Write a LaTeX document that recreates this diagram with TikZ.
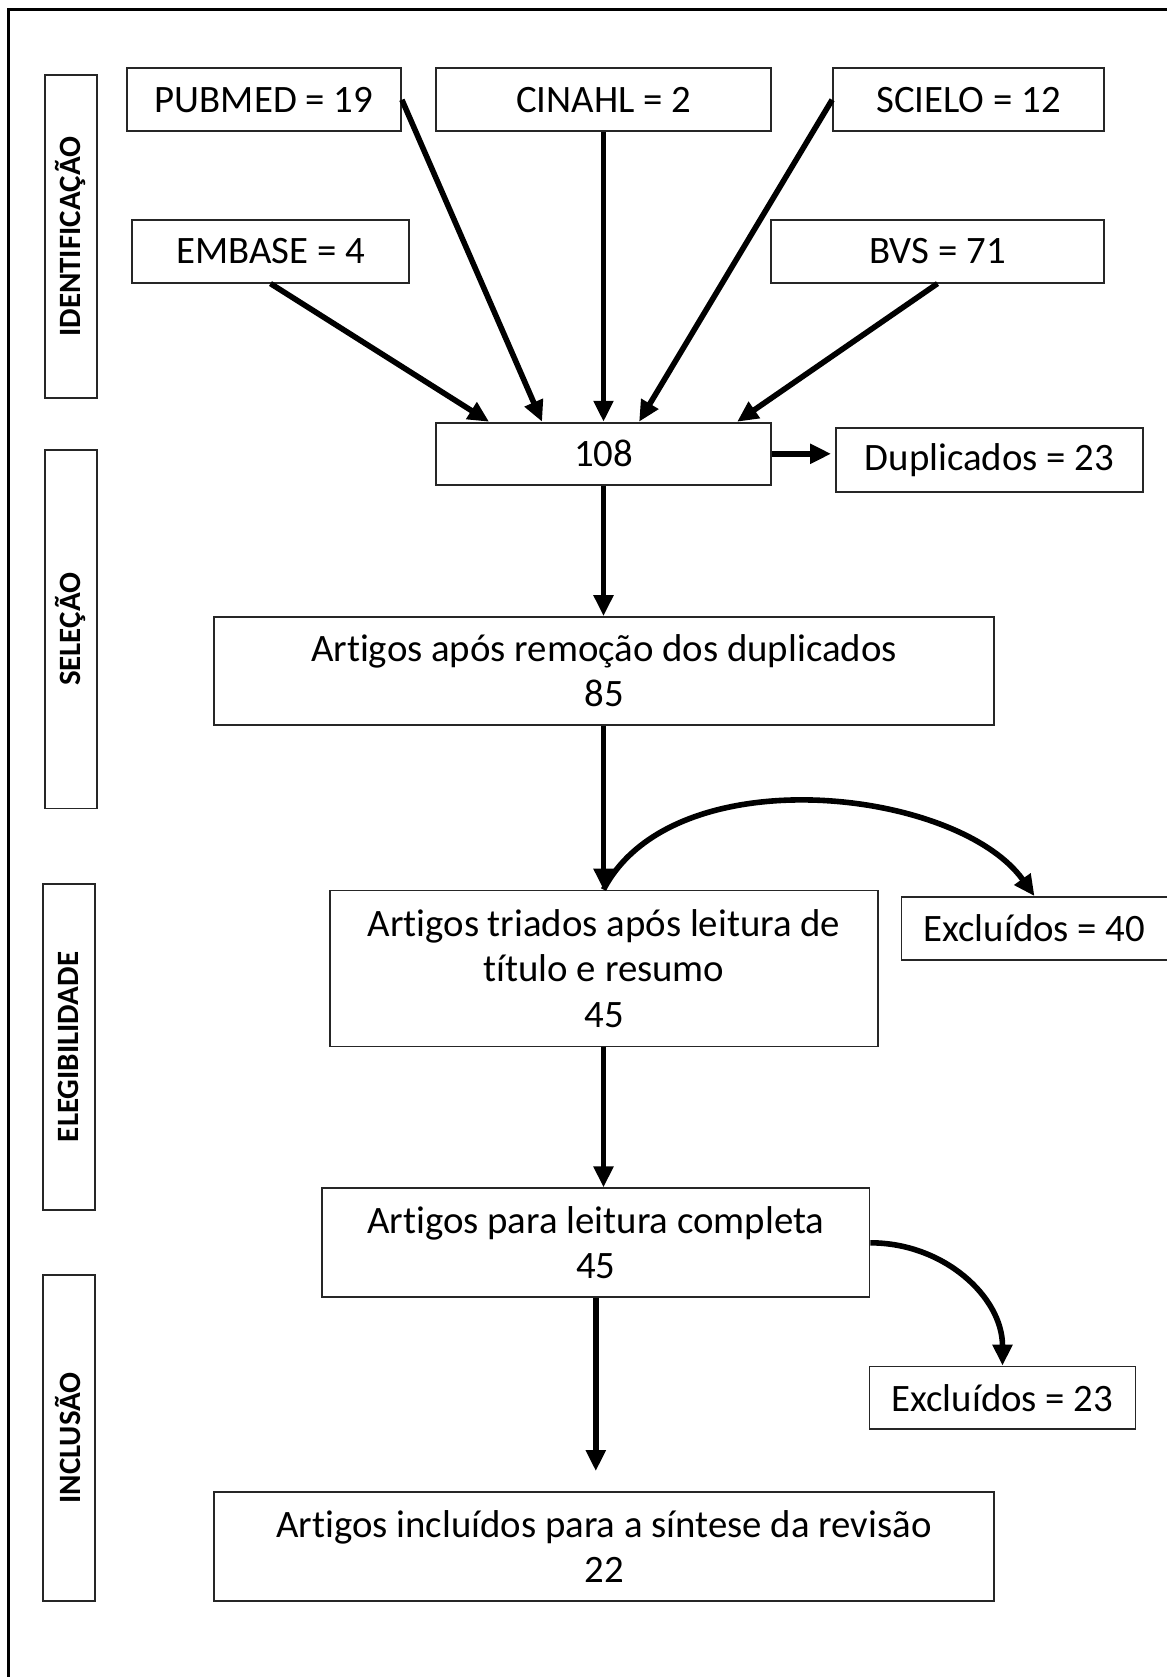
\documentclass[tikz,border=0pt]{standalone}
\usepackage{fontspec}
\setmainfont{Carlito}[Ligatures={NoCommon}]
\usetikzlibrary{arrows.meta,calc}
\begin{document}
\begin{tikzpicture}[x=0.5pt,y=-0.5pt,
  sz/.style 2 args={minimum width={#1*0.5pt}, minimum height={#2*0.5pt}},
  box/.style={draw=black!85, line width=0.9pt, inner sep=0pt, align=center, font=\fontsize{19.4}{22.6}\selectfont},
  stagebox/.style={draw=black!85, line width=0.9pt, inner sep=0pt},
  stagetxt/.style={rotate=90, font=\fontsize{15.5}{18}\selectfont\bfseries, inner sep=0pt},
  arr/.style={line width=2.8pt, -{Triangle[length=10.5pt,width=9.5pt]}},
  frame/.style={line width=1.5pt, black}
]
\useasboundingbox (0,0) rectangle (1167,1677);
\clip (0,0) rectangle (1167,1677);
\fill[white] (0,0) rectangle (1167,1677);

% outer frame (only top and left visible)
\draw[frame] (8,1677) -- (8,9) -- (1167,9);

% stage boxes
\node[stagebox, sz={52}{323}] (st1) at (71,236.7) {};
\node[stagetxt] (st1t) at (70,236.7) {IDENTIFICAÇÃO};
\node[stagebox, sz={52}{358.5}] (st2) at (71,629.3) {};
\node[stagetxt] (st2t) at (70,629.3) {SELEÇÃO};
\node[stagebox, sz={52}{326}] (st3) at (69,1047) {};
\node[stagetxt] (st3t) at (68,1047) {ELEGIBILIDADE};
\node[stagebox, sz={52}{326}] (st4) at (69,1438) {};
\node[stagetxt] (st4t) at (68,1438) {INCLUSÃO};

% boxes
\node[box, sz={274}{63}] (pubmed) at (264,99.8) {PUBMED = 19};
\node[box, sz={335}{63}] (cinahl) at (603.5,99.8) {CINAHL = 2};
\node[box, sz={271}{63}] (scielo) at (968.5,99.8) {SCIELO = 12};
\node[box, sz={277}{62.7}] (embase) at (270.5,251.3) {EMBASE = 4};
\node[box, sz={333}{62.7}] (bvs) at (937.5,251.3) {BVS = 71};
\node[box, sz={335}{62.3}] (n108) at (603.5,453.8) {108};
\node[box, sz={307}{63.4}] (dup) at (989.5,460) {Duplicados = 23};
\node[box, sz={780}{108}] (apos) at (604,671) {Artigos após remoção dos duplicados\\85};
\node[box, sz={548}{156}] (triados) at (604,968.5) {Artigos triados após leitura de\\título e resumo\\45};
\node[box, sz={266}{63}] (exc40) at (1034.5,928.5) {Excluídos = 40};
\node[box, sz={547.5}{109}] (leitura) at (595.8,1242.8) {Artigos para leitura completa\\45};
\node[box, sz={266}{62.5}] (exc23) at (1002.5,1397.8) {Excluídos = 23};
\node[box, sz={780}{109}] (incl) at (604,1546.5) {Artigos incluídos para a síntese da revisão\\22};

% arrows into 108
\draw[arr] (embase.south) -- ($(n108.north west)+(54,0)$);
\draw[arr] (pubmed.east) -- ($(n108.north west)+(107,0)$);
\draw[arr] (cinahl.south) -- (n108.north);
\draw[arr] (scielo.west) -- ($(n108.north west)+(204,0)$);
\draw[arr] (bvs.south) -- ($(n108.north west)+(302,0)$);

% main flow
\coordinate (duptip) at ($(n108.east -| dup.west)+(-4,0)$);
\draw[arr] (n108.east) -- (duptip);
\draw[arr] (n108.south) -- (n108.south |- apos.north);
\draw[arr] (n108.south |- apos.south) -- (n108.south |- triados.north);
\draw[arr] (n108.south |- triados.south) -- (n108.south |- leitura.north);
\coordinate (incltip) at ($(leitura.south |- incl.north)+(0,-20)$);
\draw[arr] (leitura.south) -- (incltip);

% exclusion curves
\draw[arr] (n108.south |- triados.north) .. controls +(70,-134) and +(-77,-108) .. (exc40.north);
\draw[arr] (leitura.east) .. controls +(73,0) and +(0,-69) .. (exc23.north);
\end{tikzpicture}
\end{document}
